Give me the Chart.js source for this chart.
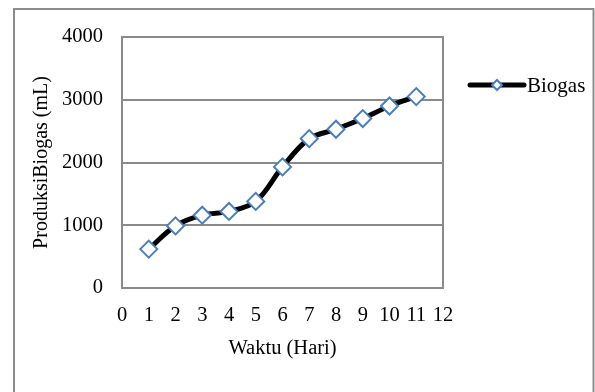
<!DOCTYPE html>
<html>
<head>
<meta charset="utf-8">
<script src="https://cdn.jsdelivr.net/npm/chart.js@4"></script>
<style>
  html, body { margin: 0; padding: 0; background: #fff; }
  #wrap { position: relative; width: 595px; height: 392px; }
</style>
</head>
<body>
<div id="wrap"><canvas id="c" width="595" height="392"></canvas></div>
<script>
const days = [1, 2, 3, 4, 5, 6, 7, 8, 9, 10, 11];
const biogas = [620, 990, 1160, 1220, 1380, 1930, 2380, 2530, 2700, 2900, 3050];
const seriesName = 'Biogas';
const xTitle = 'Waktu (Hari)';
const yTitle = 'ProduksiBiogas (mL)';

const FONT = "'Liberation Serif', 'Times New Roman', serif";
const GRID = '#8a8a8a';
const MARKER = '#4a7ebb';

const framePlugin = {
  id: 'frame',
  beforeDraw(chart) {
    const ctx = chart.ctx;
    ctx.save();
    ctx.fillStyle = '#fff';
    ctx.fillRect(0, 0, chart.width, chart.height);
    ctx.strokeStyle = '#8c8c8c';
    ctx.lineWidth = 2;
    ctx.strokeRect(14, 9, 579.5, 500);
    ctx.restore();
  },
  beforeDatasetsDraw(chart) {
    const {ctx, chartArea: a} = chart;
    ctx.save();
    ctx.strokeStyle = GRID;
    ctx.lineWidth = 2;
    ctx.strokeRect(a.left, a.top, a.right - a.left, a.bottom - a.top);
    ctx.restore();
  },
  afterDraw(chart) {
    const ctx = chart.ctx;
    const ds = chart.data.datasets[0];
    const y = 85;
    ctx.save();
    ctx.strokeStyle = ds.borderColor;
    ctx.lineWidth = 5;
    ctx.lineCap = 'round';
    ctx.beginPath();
    ctx.moveTo(470, y);
    ctx.lineTo(524, y);
    ctx.stroke();
    const cx = 497, r = 5;
    ctx.lineCap = 'butt';
    ctx.beginPath();
    ctx.moveTo(cx - r, y); ctx.lineTo(cx, y - r); ctx.lineTo(cx + r, y); ctx.lineTo(cx, y + r); ctx.closePath();
    ctx.fillStyle = '#fff';
    ctx.fill();
    ctx.lineWidth = 2;
    ctx.strokeStyle = MARKER;
    ctx.stroke();
    ctx.fillStyle = '#000';
    ctx.font = '21px ' + FONT;
    ctx.textBaseline = 'middle';
    ctx.textAlign = 'left';
    ctx.fillText(ds.label, 527, y + 1);
    ctx.restore();
  }
};

new Chart(document.getElementById('c'), {
  type: 'line',
  data: {
    datasets: [{
      label: seriesName,
      data: days.map((d, i) => ({x: d, y: biogas[i]})),
      borderColor: '#000',
      borderWidth: 5,
      tension: 0.35,
      pointStyle: 'rectRot',
      pointRadius: 8.5,
      pointHoverRadius: 8.5,
      pointBorderWidth: 2,
      pointBorderColor: MARKER,
      pointBackgroundColor: '#fff',
      fill: false
    }]
  },
  options: {
    responsive: false,
    animation: false,
    events: [],
    layout: { padding: { left: 14, top: 37, right: 152, bottom: 0 } },
    plugins: { legend: { display: false }, tooltip: { enabled: false } },
    scales: {
      x: {
        type: 'linear',
        min: 0, max: 12,
        ticks: { stepSize: 1, color: '#000', font: { family: FONT, size: 20.5 }, padding: 15, maxRotation: 0, autoSkip: false,
                 callback: v => String(v) },
        grid: { display: false, drawTicks: false },
        border: { display: false },
        title: { display: true, text: xTitle, color: '#000', font: { family: FONT, size: 20.5 }, padding: { top: 0, bottom: 31 } },
        afterFit(s) { s.height = 104; }
      },
      y: {
        min: 0, max: 4000,
        ticks: { stepSize: 1000, color: '#000', font: { family: FONT, size: 20.5 }, padding: 19,
                 callback: v => String(v) },
        grid: { color: GRID, lineWidth: 2, drawTicks: false },
        border: { display: false },
        title: { display: true, text: yTitle, color: '#000', font: { family: FONT, size: 20 }, padding: { top: 16, bottom: 0 } },
        afterFit(s) { s.width = 108; }
      }
    }
  },
  plugins: [framePlugin]
});
</script>
</body>
</html>
